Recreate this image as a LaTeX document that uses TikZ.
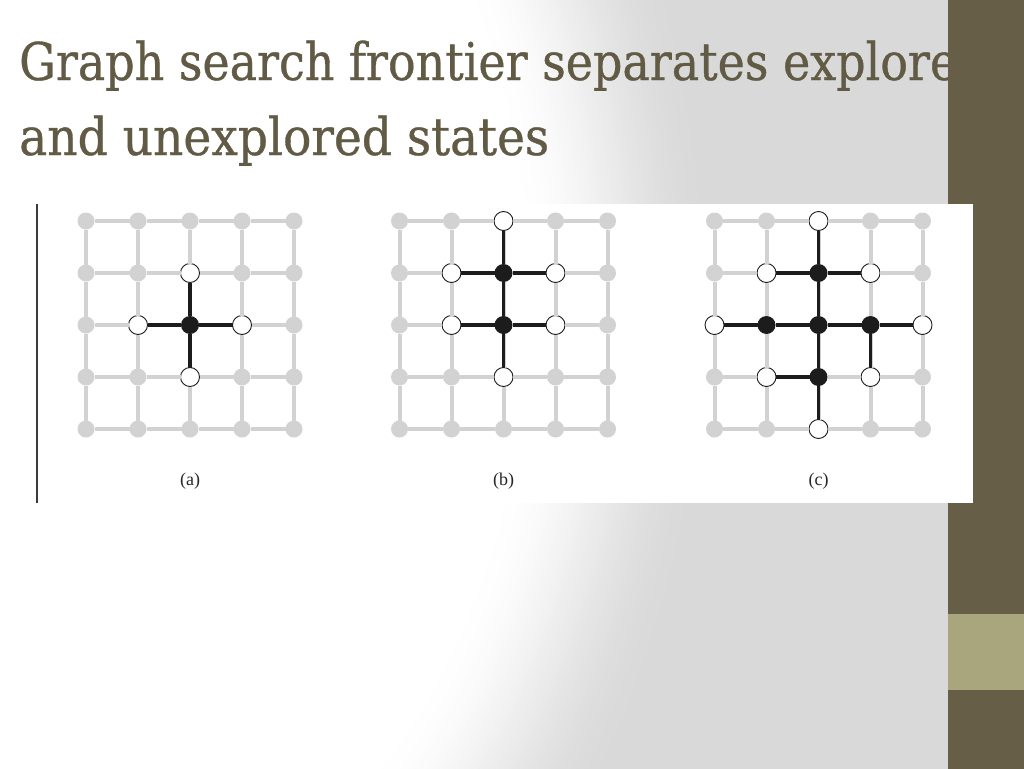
\documentclass[tikz,border=0pt]{standalone}
\usepackage{fontspec}
\setmainfont{DejaVu Serif}
\newfontfamily\titlefont[FakeBold=0.7]{DejaVu Serif}
\newfontfamily\labfont{Liberation Serif}
\definecolor{bggray}{HTML}{D9D9D9}
\definecolor{titlecol}{HTML}{615A44}
\definecolor{barbrown}{HTML}{675E47}
\definecolor{barlight}{HTML}{A9A67E}
\definecolor{gridgray}{HTML}{D2D2D2}
\definecolor{nodeblack}{HTML}{1C1C1C}
\definecolor{framecol}{HTML}{3A3A3A}
\newlength\tlen
\newlength\tlenA
\begin{document}
\settowidth\tlen{\titlefont\fontsize{52}{60}\selectfont and unexplored states}%
\settowidth\tlenA{\titlefont\fontsize{52}{60}\selectfont Graph search frontier separates explore}%
\pgfmathsetmacro\tsx{530/\tlen}%
\pgfmathsetmacro\tsxA{938/\tlenA}%
\begin{tikzpicture}[x=1pt,y=-1pt,
  nodebase/.style={circle,inner sep=0pt,outer sep=0pt},
  gnode/.style={nodebase,fill=gridgray,minimum size=17pt},
  wnode/.style={nodebase,fill=white,draw=nodeblack,line width=0.9pt,minimum size=19pt},
  bnode/.style={nodebase,fill=nodeblack,minimum size=18pt},
  gedge/.style={draw=gridgray,line width=4pt},
  bedge/.style={draw=nodeblack,line width=3.6pt},
  labstyle/.style={font=\labfont\fontsize{18}{20}\selectfont,text=black!85,inner sep=0pt},
  titlestyle/.style={anchor=base west,inner sep=0pt,text=titlecol,font=\titlefont\fontsize{52}{60}\selectfont},
  sa-2-2/.style=bnode, sa-1-2/.style=wnode, sa-2-1/.style=wnode, sa-2-3/.style=wnode, sa-3-2/.style=wnode,
  sb-1-2/.style=bnode, sb-2-2/.style=bnode,
  sb-0-2/.style=wnode, sb-1-1/.style=wnode, sb-1-3/.style=wnode, sb-2-1/.style=wnode, sb-2-3/.style=wnode, sb-3-2/.style=wnode,
  sc-1-2/.style=bnode, sc-2-1/.style=bnode, sc-2-2/.style=bnode, sc-2-3/.style=bnode, sc-3-2/.style=bnode,
  sc-0-2/.style=wnode, sc-1-1/.style=wnode, sc-1-3/.style=wnode, sc-2-0/.style=wnode, sc-2-4/.style=wnode,
  sc-3-1/.style=wnode, sc-3-3/.style=wnode, sc-4-2/.style=wnode]
\useasboundingbox (0,0) rectangle (1024,768);
% background: white glow on the left fading into gray (page edge crops it)
\fill[bggray] (-20,-20) rectangle (1044,788);
\foreach \i in {0,...,48}{
  \pgfmathsetmacro\f{1-0.27*\i/48}
  \pgfmathsetmacro\t{\i/48}
  \pgfmathsetmacro\m{100*(1-(3*\t*\t-2*\t*\t*\t))}
  \fill[bggray!\m!white] (0,300) ellipse [x radius={715*\f}, y radius={913*\f}];
}
% title
\node[titlestyle] (title1) at (19,80) {\scalebox{\tsxA}[1]{Graph search frontier separates explored}};
\node[titlestyle] (title2) at (19,155) {\scalebox{\tsx}[1]{and unexplored states}};
% side bar
\fill[barbrown] (948,-20) rectangle (1044,788);
\fill[barlight] (948,614) rectangle (1044,690);
% picture panel
\fill[white] (36,204) rectangle (973,503);
\draw[framecol,line width=2pt] (37,204) -- (37,503);
% grid nodes
\foreach \p/\x in {a/86,b/399.5,c/714.5}{
  \foreach \rr in {0,...,4}{
    \foreach \cc in {0,...,4}{
      \pgfkeysifdefined{/tikz/s\p-\rr-\cc/.@cmd}{\edef\st{s\p-\rr-\cc}}{\def\st{gnode}}
      \edef\mk{\noexpand\node[\st] (\p-\rr-\cc) at ({\x+52*\cc},{221+52*\rr}) {};}
      \mk
    }
  }
}
% gray grid edges
\foreach \p in {a,b,c}{
  \foreach \rr in {0,...,4}{
    \foreach \cc [evaluate=\cc as \cn using int(\cc+1)] in {0,...,3}{
      \draw[gedge] (\p-\rr-\cc) -- (\p-\rr-\cn);
      \draw[gedge] (\p-\cc-\rr) -- (\p-\cn-\rr);
    }
  }
}
% explored edges
\foreach \u/\v in {a-2-2/a-1-2, a-2-2/a-2-1, a-2-2/a-2-3, a-2-2/a-3-2,
  b-1-2/b-0-2, b-1-2/b-1-1, b-1-2/b-1-3, b-1-2/b-2-2, b-2-2/b-2-1, b-2-2/b-2-3, b-2-2/b-3-2,
  c-1-2/c-0-2, c-1-2/c-1-1, c-1-2/c-1-3, c-1-2/c-2-2, c-2-2/c-2-1, c-2-2/c-2-3, c-2-2/c-3-2,
  c-2-1/c-2-0, c-2-3/c-2-4, c-2-3/c-3-3, c-3-2/c-3-1, c-3-2/c-4-2}
  {\draw[bedge] (\u) -- (\v);}
% labels
\node[labstyle] (la) at (190,481) {(a)};
\node[labstyle] (lb) at (503.5,481) {(b)};
\node[labstyle] (lc) at (818.5,481) {(c)};
\end{tikzpicture}
\end{document}
